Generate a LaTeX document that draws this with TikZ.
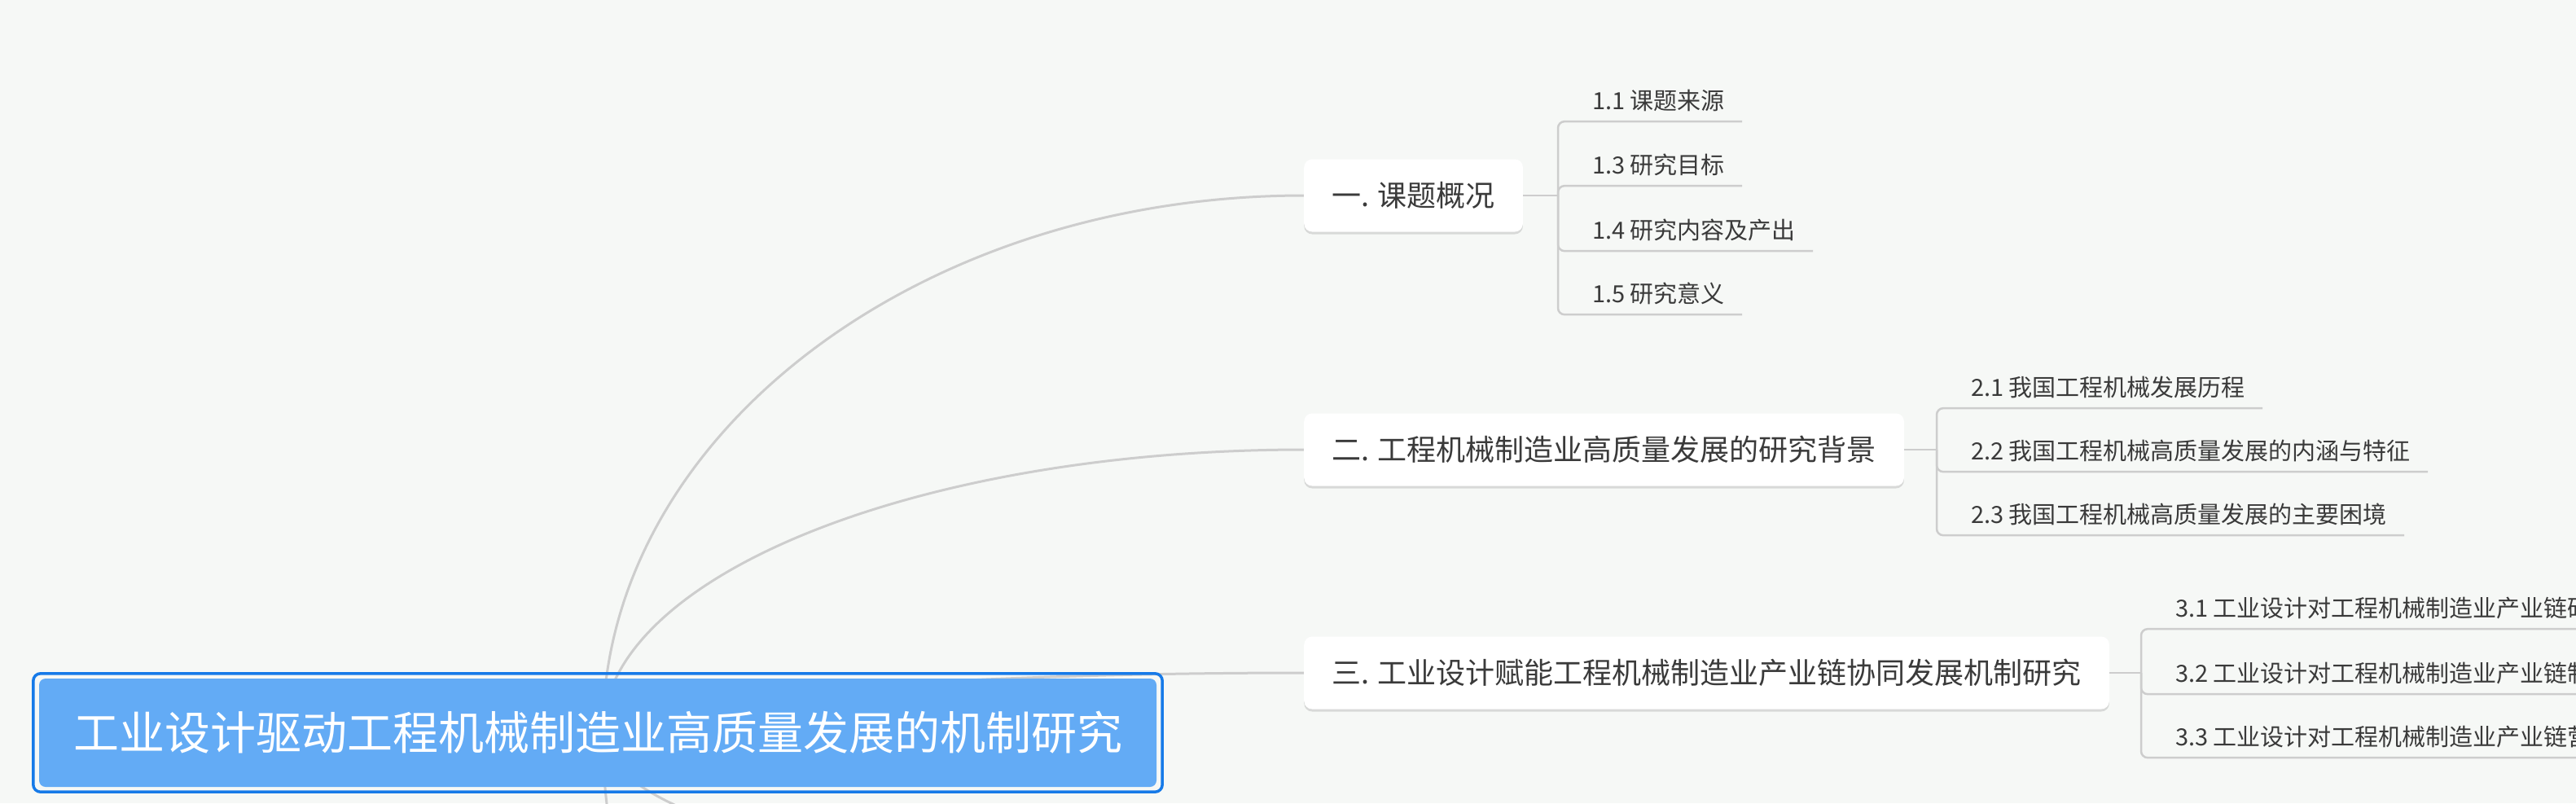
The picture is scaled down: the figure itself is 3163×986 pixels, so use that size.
\documentclass[tikz,border=0pt]{standalone}
\usepackage{fontspec}
\setmainfont{Noto Sans CJK SC}
\usetikzlibrary{backgrounds,shadows}
\definecolor{bg}{RGB}{246,248,246}
\definecolor{rootfill}{RGB}{99,171,245}
\definecolor{rootline}{RGB}{22,122,232}
\definecolor{linegray}{RGB}{205,205,205}
\definecolor{textgray}{RGB}{58,58,58}

\begin{document}
\begin{tikzpicture}[x=1pt,y=1pt]
\tikzstyle{every node}+=[inner sep=0pt]
\tikzstyle{root}=[fill=rootfill, rounded corners=8pt, text=white, font=\fontsize{56}{56}\selectfont, minimum width=1372pt, minimum height=133pt, text height=47.6pt, text depth=5.6pt]
\tikzstyle{topic}=[fill=white, rounded corners=10pt, text=textgray, font=\fontsize{36}{36}\selectfont, inner xsep=34pt, minimum height=89pt, text height=30.6pt, text depth=3.6pt, anchor=west, drop shadow={shadow xshift=0pt, shadow yshift=-3pt, opacity=0.12, fill=black}]
\tikzstyle{sub}=[text=textgray, font=\fontsize{29}{29}\selectfont, inner xsep=21pt, inner ysep=11.2pt, text height=24.6pt, text depth=2.9pt, anchor=west]
\tikzstyle{branch}=[draw=linegray, line width=2.5pt, rounded corners=8pt]
\tikzstyle{curve}=[draw=linegray, line width=3pt]
\useasboundingbox (0,0) rectangle (3163,-986);
\clip (0,0) rectangle (3163,-986);
\node [root] (root) at (734,-899.5) {工业设计驱动工程机械制造业高质量发展的机制研究};
\draw [rootline, line width=3.5pt, rounded corners=9pt] ([shift={(-7pt,6pt)}]root.north west) rectangle ([shift={(7pt,-6pt)}]root.south east);
\coordinate (hub) at (740,-900);
\node [topic] (n1) at (1601,-240) {一. 课题概况};
\node [topic] (n2) at (1601,-552) {二. 工程机械制造业高质量发展的研究背景};
\node [topic] (n3) at (1601,-826) {三. 工业设计赋能工程机械制造业产业链协同发展机制研究};
\coordinate (n4) at (1601,-1100);
\coordinate (n5) at (1601,-1700);
\node [sub] (c11) at (1934,-124) {1.1 课题来源};
\node [sub] (c13) at (1934,-203) {1.3 研究目标};
\node [sub] (c14) at (1934,-283) {1.4 研究内容及产出};
\node [sub] (c15) at (1934,-361) {1.5 研究意义};
\node [sub] (c21) at (2399,-476) {2.1 我国工程机械发展历程};
\node [sub] (c22) at (2399,-554) {2.2 我国工程机械高质量发展的内涵与特征};
\node [sub] (c23) at (2399,-632) {2.3 我国工程机械高质量发展的主要困境};
\node [sub] (c31) at (2650,-747) {3.1 工业设计对工程机械制造业产业链研};
\node [sub] (c32) at (2650,-827) {3.2 工业设计对工程机械制造业产业链制};
\node [sub] (c33) at (2650,-905) {3.3 工业设计对工程机械制造业产业链营};
\coordinate (j1) at (1913,-240);
\coordinate (j2) at (2378,-552);
\coordinate (j3) at (2629,-826);
\begin{scope}[on background layer]
\fill [bg] (0,0) rectangle (3163,-986);
\clip (0,0) rectangle (3163,-986);
\draw [curve] (hub) .. controls +(0,364) and +(-475,0) .. (n1.west);
\draw [curve] (hub) .. controls +(0,192) and +(-475,0) .. (n2.west);
\draw [curve] (hub) .. controls +(0,41) and +(-475,0) .. (n3.west);
\draw [curve] (hub) .. controls +(0,-110) and +(-475,0) .. (n4);
\draw [curve] (hub) .. controls +(0,-442) and +(-475,0) .. (n5);
\end{scope}
\draw [branch] (n1.east) -- (j1);
\draw [branch] (j1) |- (c11.south west) -- (c11.south east);
\draw [branch] (j1) |- (c13.south west) -- (c13.south east);
\draw [branch] (j1) |- (c14.south west) -- (c14.south east);
\draw [branch] (j1) |- (c15.south west) -- (c15.south east);
\draw [branch] (n2.east) -- (j2);
\draw [branch] (j2) |- (c21.south west) -- (c21.south east);
\draw [branch] (j2) |- (c22.south west) -- (c22.south east);
\draw [branch] (j2) |- (c23.south west) -- (c23.south east);
\draw [branch] (n3.east) -- (j3);
\draw [branch] (j3) |- (c31.south west) -- (c31.south east);
\draw [branch] (j3) |- (c32.south west) -- (c32.south east);
\draw [branch] (j3) |- (c33.south west) -- (c33.south east);
\end{tikzpicture}
\end{document}
